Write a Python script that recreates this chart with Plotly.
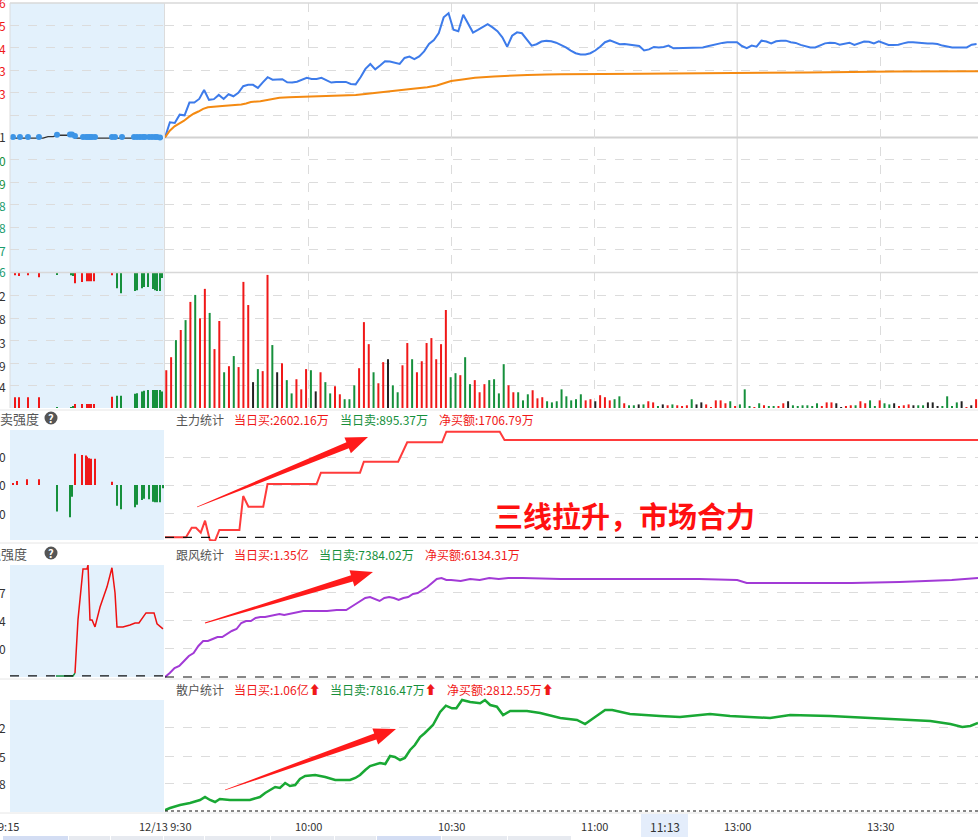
import numpy as np
import plotly.graph_objects as go

W, H = 978, 840
T_END = 170.5      # minutes after 9:30 visible at right edge
PRE_END = 15.0     # 9:15 -> 9:30

# ---------------- data ----------------
# price panel (grid units vs previous close)
blue = [0.0, 0.68, 0.65, 1.02, 0.99, 1.56, 1.56, 1.72, 2.12, 1.68,
        1.71, 1.90, 1.72, 1.93, 1.84, 1.99, 2.29, 2.35, 2.35, 2.21,
        2.46, 2.69, 2.58, 2.58, 2.60, 2.46, 2.45, 2.49, 2.57, 2.66,
        2.61, 2.61, 2.66, 2.54, 2.45, 2.48, 2.49, 2.48, 2.39, 2.37,
        2.69, 3.06, 3.28, 3.04, 3.21, 3.40, 3.39, 3.33, 3.28, 3.55,
        3.61, 3.50, 3.62, 3.84, 4.17, 4.35, 4.66, 5.36, 5.54, 4.81,
        4.74, 5.48, 5.06, 4.68, 4.80, 4.94, 5.06, 4.91, 4.74, 4.47,
        4.05, 4.54, 4.69, 4.65, 4.40, 4.10, 4.16, 4.28, 4.31, 4.29, 4.23,
        4.13, 4.02, 3.88, 3.76, 3.70, 3.70, 3.76, 3.88, 4.05, 4.25,
        4.33, 4.25, 4.16, 4.17, 4.14, 4.10, 4.08, 3.88, 3.93, 4.04,
        4.02, 4.04, 4.10, 3.98, 3.99, 4.01, 4.02, 4.01, 4.01, 4.02,
        4.07, 4.13, 4.16, 4.22, 4.25, 4.25, 4.25, 4.08, 3.99, 4.10,
        4.05, 4.32, 4.28, 4.20, 4.29, 4.32, 4.32, 4.25, 4.22, 4.13,
        4.07, 4.02, 4.02, 4.10, 4.20, 4.23, 4.22, 4.14, 4.20, 4.23,
        4.13, 4.22, 4.28, 4.27, 4.20, 4.29, 4.20, 4.13, 4.13, 4.14,
        4.20, 4.25, 4.25, 4.22, 4.19, 4.19, 4.19, 4.17, 4.10, 4.05,
        4.02, 4.02, 4.02, 4.02, 4.14, 4.17]
orange_t = [0, 1, 2, 3, 4, 5, 6, 7, 8, 9, 10, 12, 14, 16, 17, 18, 20, 21, 22, 24, 26, 30,
            34, 40, 42, 48, 52, 55, 57, 59, 60, 62, 65, 69, 72, 76, 80, 83, 100, 118, 135, 153, 170.5]
orange = [0, 0.30, 0.50, 0.62, 0.75, 0.92, 1.06, 1.16, 1.28, 1.35, 1.38, 1.41, 1.44, 1.47, 1.52,
          1.58, 1.62, 1.66, 1.72, 1.77, 1.80, 1.82, 1.87, 1.90, 1.94, 2.06, 2.17, 2.24, 2.32, 2.45,
          2.52, 2.58, 2.66, 2.72, 2.76, 2.79, 2.81, 2.82, 2.84, 2.86, 2.90, 2.94, 2.95]
pre_dot_t = [0.29, 0.97, 1.75, 2.82, 4.58, 5.84, 6.04, 6.33, 7.11, 7.40, 7.60, 7.79, 7.99, 8.28,
             9.93, 10.23, 10.91, 12.08, 12.37, 12.66, 12.95, 13.15, 13.54, 13.83, 14.12, 14.32, 14.61]
pre_dot = [0.02, 0.02, 0.02, 0.02, 0.12, 0.13, 0.13, 0.07, 0.02, 0.02, 0.02, 0.02, 0.02, 0.02,
           0.02, 0.02, 0.02, 0.02, 0.02, 0.02, 0.02, 0.02, 0.02, 0.02, 0.02, 0.02, 0.0]
pre_line_t = [0, 3.21, 3.70, 4.19, 4.68, 6.04, 6.33, 14.9]
pre_line = [-0.03, -0.03, 0.04, 0.04, 0.10, 0.10, -0.03, -0.03]

# volume panel (grid units)
vol = [1.68, 2.26, 3.02, 3.47, 3.91, 4.72, 5.03, 3.99, 5.30, 4.23,
       2.62, 3.87, 1.59, 1.86, 2.31, 1.82, 5.61, 4.58, 1.15, 1.73,
       1.64, 5.92, 2.80, 1.59, 1.99, 1.24, 0.65, 1.28, 0.83, 1.73,
       1.68, 0.74, 1.59, 1.15, 0.65, 0.97, 0.61, 0.39, 0.39, 1.01,
       1.77, 3.82, 2.84, 1.59, 1.10, 2.04, 2.17, 1.01, 0.70, 1.90,
       2.89, 2.17, 1.59, 2.08, 2.89, 3.11, 2.17, 2.84, 4.36, 1.37,
       1.55, 1.46, 2.26, 1.06, 1.24, 0.70, 1.06, 1.24, 1.28, 0.65,
       1.95, 1.01, 0.70, 0.70, 0.34, 0.61, 0.79, 0.43, 0.48, 0.30, 0.25, 0.30,
       0.83, 0.52, 0.34, 0.39, 0.61, 0.34, 0.39, 0.30, 0.57, 0.48,
       0.34, 0.39, 0.52, 0.21, 0.12, 0.12, 0.16, 0.16, 0.30, 0.25,
       0.07, 0.16, 0.12, 0.16, 0.12, 0.07, 0.12, 0.39, 0.16, 0.25,
       0.16, 0.03, 0.34, 0.34, 0.21, 0.30, 0.07, 0.16, 0.83, 0.07,
       0.03, 0.21, 0.12, 0.07, 0.07, 0.07, 0.21, 0.30, 0.12, 0.07,
       0.12, 0.12, 0.07, 0.21, 0.07, 0.25, 0.25, 0.21, 0.03, 0.07,
       0.12, 0.12, 0.30, 0.21, 0.34, 0.07, 0.34, 0.21, 0.16, 0.21,
       0.07, 0.12, 0.16, 0.12, 0.12, 0.12, 0.25, 0.25, 0.07, 0.07,
       0.52, 0.07, 0.25, 0.30, 0.03, 0.12, 0.39]
vol_side = ("rrgrgrgrrg" "rrgrgrrrkg" "rrgkrggrrr" "gkrggrrggg" "rrrgrrkggr"
            "rgrrrrrrrg" "grggrrrggg" "grrgggrrrggg"
            "gggggrrkrr" "rggrggkgrr" "gkrgrrrgkk" "rrrrrgrggg" "rgrggrrkgg"
            "ggggrrrkkr" "rgrrggrggk" "rrrkggkkkg" "gggkrkr")
pre_vol_t = [0.49, 0.88, 1.75, 2.82, 4.58, 5.94, 6.14, 6.33, 7.01, 7.50, 7.69, 7.89, 8.18,
             9.93, 10.42, 10.81, 12.18, 12.37, 12.86, 13.05, 13.44, 13.93, 14.12, 14.32, 14.61, 14.80]
pre_vol_top = [0.09, 0.13, 0.09, 0.18, 0.04, 0.09, 0.13, 0.45, 0.40, 0.36, 0.36, 0.36, 0.36,
               0.09, 0.67, 0.89, 0.80, 0.76, 0.67, 0.62, 0.62, 0.71, 0.76, 0.80, 0.80, 0.22]
pre_vol_bot = [0.48, 0.48, 0.48, 0.48, 0.04, 0.04, 0.09, 0.18, 0.18, 0.18, 0.18, 0.18, 0.18,
               0.50, 0.54, 0.54, 0.63, 0.66, 0.73, 0.77, 0.80, 0.80, 0.80, 0.80, 0.80, 0.73]
pre_vol_side = "rrrrgggrrrrrrrggggggggggg" + "g"

# 主力统计 (net buy, 万)
zl_t = [0, 4.4, 5.6, 6.5, 7.5, 8.4, 9.4, 10.5, 11.4, 15.6, 16.4, 17.5, 20.6, 21.5, 31.8, 32.7,
        40.9, 41.7, 48.9, 50.8, 58.1, 59.0, 70.2, 71.2, 170.5]
zl = [0, 0, 168, 168, 81, 291, -47, -60, 128, 128, 724, 537, 537, 935, 935, 1133, 1133, 1326,
      1326, 1666, 1666, 1852, 1852, 1707, 1707]
pre_s_t = [0.29, 0.68, 1.66, 2.82, 4.58, 5.84, 6.04, 6.33, 7.01, 7.40, 7.50, 7.69, 7.89, 8.28,
           9.93, 10.42, 10.81, 12.18, 12.37, 12.86, 13.05, 13.54, 13.93, 14.12, 14.32, 14.61, 14.90]
pre_s = [0.06, 0.14, 0.20, 0.20, -0.95, -1.15, -0.42, 1.11, 1.07, 1.05, 1.01, 0.95, 0.93, 0.93,
         0.11, -0.74, -0.87, -0.80, -0.71, -0.54, -0.49, -0.51, -0.60, -0.62, -0.62, -0.62, -0.12]

# 跟风统计 (万)
gf_t = [0, 1, 2, 3, 4, 5, 6, 7, 8, 9, 10, 11, 12, 13, 14, 15, 16, 17, 18, 19, 20, 21, 22, 23, 24,
        25, 26, 27, 28, 29, 30, 32, 34, 36, 38, 40, 41, 42, 43, 44, 45, 46, 47, 48, 49, 50, 51, 52,
        53, 54, 55, 56, 57, 58, 59, 60, 62, 64, 66, 68, 70, 72, 75, 83, 91, 102, 112, 120, 122,
        133, 144, 154, 165, 170.5]
gf = [0, 248, 558, 682, 992, 1302, 1488, 1922, 2232, 2232, 2356, 2480, 2480, 2666, 2852, 2976,
      3348, 3472, 3472, 3658, 3720, 3720, 3782, 3844, 3906, 3844, 3906, 3968, 4030, 4092, 4092,
      4092, 4092, 4154, 4154, 4526, 4712, 4898, 4960, 4836, 4712, 4898, 4960, 4898, 4774, 4898,
      4960, 5146, 5208, 5394, 5580, 5828, 6076, 6138, 6014, 6014, 5952, 6076, 6014, 6138, 6076,
      6138, 6138, 6076, 6076, 6076, 6076, 6014, 5828, 5828, 5828, 5890, 6014, 6138]
pre_q_t = [4.48, 6.14, 6.33, 6.62, 7.11, 7.50, 7.60, 7.69, 7.79, 7.99, 8.28, 8.77, 9.45, 9.93,
           10.23, 10.42, 11.00, 11.69, 12.18, 12.56, 12.95, 13.25, 14.03, 14.32, 14.90]
pre_q = [0, 0, 0.10, 2.00, 3.82, 3.82, 3.96, 2.46, 2.00, 2.00, 1.75, 2.46, 3.18, 3.86, 2.96,
         1.75, 1.75, 1.82, 1.89, 1.89, 2.07, 2.25, 2.25, 1.86, 1.68]

# 散户统计 (万)
sh_t = [0, 1.05, 3.15, 5.24, 7.34, 8.39, 9.44, 10.5, 11.5, 13.6, 17.8, 19.9, 21, 22, 23.1, 24.1,
        25.2, 26.2, 27.3, 28.3, 29.4, 31.5, 33.6, 35.7, 38.8, 39.9, 40.9, 42, 43, 45.1, 46.2, 47.2,
        48.2, 49.3, 50.3, 51.4, 52.4, 53.5, 54.5, 56.2, 57.7, 58.9, 60.2, 61.1, 62.3, 64, 66.1,
        67.1, 68.2, 69.6, 70.9, 72.4, 75.9, 78.7, 82.9, 86.4, 88.1, 90.2, 92.3, 93.8, 97.5, 103.8,
        108, 114.3, 118.5, 126.9, 131.1, 139.5, 147.9, 154.2, 160.5, 164.7, 167.2, 168.9, 170.5]
sh = [32, 96, 192, 256, 352, 448, 352, 288, 384, 352, 352, 448, 576, 672, 768, 736, 896, 800,
      832, 1024, 1120, 1152, 1088, 992, 992, 1056, 1152, 1312, 1440, 1536, 1504, 1760, 1728, 1632,
      1696, 1952, 2112, 2368, 2496, 2752, 3168, 3370, 3286, 3286, 3552, 3488, 3446, 3552, 3392,
      3338, 3072, 3200, 3200, 3136, 2976, 2912, 2784, 3008, 3232, 3232, 3104, 3040, 3008, 3104,
      3040, 2976, 3072, 3040, 2976, 2912, 2880, 2784, 2688, 2720, 2816]

time_ticks = [0, 30, 60, 90, 120, 150]
time_labels = ["12/13 9:30", "10:00", "10:30", "11:00", "13:00", "13:30"]

# ---------------- helpers (layout only) ----------------
def P(x):
    return x / W

def Q(y):
    return 1 - y / H

def ydom(top, bot):
    return [Q(bot), Q(top)]

RED = "#f01818"
GREEN = "#16903c"
TEAL = "#1a9c6e"
SIDE = {"r": RED, "g": GREEN, "k": "#222222"}
FONT = "Noto Sans CJK SC, Noto Sans, sans-serif"
GRID = "#dcdcdc"

fig = go.Figure()
bar_t = np.linspace(0.27, 170.1, len(vol))
blue_t = np.linspace(0, T_END - 0.3, len(blue))

# panel 1
fig.add_trace(go.Scatter(x=blue_t, y=blue, mode="lines", line=dict(color="#3d7bea", width=2),
                         xaxis="x", yaxis="y"))
fig.add_trace(go.Scatter(x=orange_t, y=orange, mode="lines", line=dict(color="#f48a12", width=2),
                         xaxis="x", yaxis="y"))
fig.add_trace(go.Scatter(x=pre_line_t, y=pre_line, mode="lines", line=dict(color="#333", width=1.3),
                         xaxis="x2", yaxis="y2"))
fig.add_trace(go.Scatter(x=pre_dot_t, y=pre_dot, mode="markers",
                         marker=dict(color="#3d95e6", size=6), xaxis="x2", yaxis="y2"))
# panel 2
fig.add_trace(go.Bar(x=bar_t, y=vol, width=0.42, marker=dict(color=[SIDE[c] for c in vol_side[:len(vol)]],
                     line=dict(width=0)), xaxis="x3", yaxis="y3"))
fig.add_trace(go.Bar(x=pre_vol_t, y=[-d for d in pre_vol_top], base=6, width=0.17,
                     marker=dict(color=[SIDE[c] for c in pre_vol_side], line=dict(width=0)),
                     xaxis="x4", yaxis="y4"))
fig.add_trace(go.Bar(x=pre_vol_t, y=pre_vol_bot, width=0.17,
                     marker=dict(color=[SIDE[c] for c in pre_vol_side], line=dict(width=0)),
                     xaxis="x4", yaxis="y4"))
# panel 3
fig.add_trace(go.Scatter(x=zl_t, y=zl, mode="lines", line=dict(color="#ff3b3b", width=2),
                         xaxis="x5", yaxis="y5"))
fig.add_trace(go.Bar(x=pre_s_t, y=pre_s, width=0.17,
                     marker=dict(color=[RED if v > 0 else GREEN for v in pre_s], line=dict(width=0)),
                     xaxis="x6", yaxis="y6"))
# panel 4
fig.add_trace(go.Scatter(x=gf_t, y=gf, mode="lines", line=dict(color="#a23ad6", width=2),
                         xaxis="x7", yaxis="y7"))
fig.add_trace(go.Scatter(x=pre_q_t[:3], y=pre_q[:3], mode="lines", line=dict(color=GREEN, width=1.5),
                         xaxis="x8", yaxis="y8"))
fig.add_trace(go.Scatter(x=pre_q_t[2:], y=pre_q[2:], mode="lines", line=dict(color="#ee1111", width=1.5),
                         xaxis="x8", yaxis="y8"))
# panel 5
fig.add_trace(go.Scatter(x=sh_t, y=sh, mode="lines", line=dict(color="#19a834", width=2.5),
                         xaxis="x9", yaxis="y9"))

panels = [  # (top, bottom, main range, pre range, main grid vals, pre grid vals, vgrid)
    (3, 272, [-6, 6], [-6, 6], [-5, -4, -3, -2, -1, 1, 2, 3, 4, 5], [-5, -4, -3, -2, -1, 1, 2, 3, 4, 5], True),
    (272, 408, [0, 6.05], [0, 6.05], [1, 2, 3, 4, 5], [1, 2, 3, 4, 5], True),
    (430, 541, [-65, 1882], [-2.0, 1.96], [426, 917, 1408], [], False),
    (565, 679, [-124, 6944], [-0.11, 3.96], [1798, 3534, 5270], [], False),
    (698, 813, [-64, 3616], [-64, 3616], [896, 1760, 2688], [], False),
]
layout = {}
for i, (top, bot, mr, pr, mg, pg, vg) in enumerate(panels):
    mi, pi = 2 * i + 1, 2 * i + 2
    mx = "xaxis" if mi == 1 else f"xaxis{mi}"
    my = "yaxis" if mi == 1 else f"yaxis{mi}"
    mxr = "x" if mi == 1 else f"x{mi}"
    myr = "y" if mi == 1 else f"y{mi}"
    layout[mx] = dict(domain=[P(165), 1], range=[0, T_END], anchor=myr, showticklabels=False,
                      ticks="", zeroline=False, showgrid=vg, tickvals=[30, 60, 90, 150],
                      gridcolor=GRID, griddash="dash", gridwidth=1)
    layout[my] = dict(domain=ydom(top, bot), range=mr, anchor=mxr, showticklabels=False, ticks="",
                      zeroline=False, showgrid=True, tickvals=mg, gridcolor=GRID, griddash="dash")
    layout[f"xaxis{pi}"] = dict(domain=[P(10), P(164)], range=[0, PRE_END], anchor=f"y{pi}",
                                showticklabels=False, ticks="", zeroline=False, showgrid=False)
    layout[f"yaxis{pi}"] = dict(domain=ydom(top, bot), range=pr, anchor=f"x{pi}", showticklabels=False,
                                ticks="", zeroline=False, showgrid=bool(pg), tickvals=pg,
                                gridcolor=GRID, griddash="dash")

shapes = []
# pre-market background
for (t, b) in [(3, 408), (430, 540), (565, 677), (700, 812)]:
    shapes.append(dict(type="rect", xref="paper", yref="paper", x0=P(10), x1=P(164), y0=Q(b), y1=Q(t),
                       fillcolor="#e3f1fc", line=dict(width=0), layer="below"))
# separators / borders
for y in [410, 543, 679, 813]:
    shapes.append(dict(type="line", xref="paper", yref="paper", x0=0, x1=1, y0=Q(y), y1=Q(y),
                       line=dict(color="#e6e6e6", width=1)))
shapes.append(dict(type="line", xref="paper", yref="paper", x0=P(10), x1=1, y0=Q(3), y1=Q(3),
                   line=dict(color="#d8d8d8", width=1.5)))
shapes.append(dict(type="line", xref="paper", yref="paper", x0=P(10), x1=1, y0=Q(272.5), y1=Q(272.5),
                   line=dict(color="#d8d8d8", width=1.5)))
for x in [10, 164.5]:
    shapes.append(dict(type="line", xref="paper", yref="paper", x0=P(x), x1=P(x), y0=Q(408), y1=Q(3),
                       line=dict(color="#dcdcdc", width=1)))
# previous close line
shapes.append(dict(type="line", xref="x", yref="y", x0=0, x1=T_END, y0=0, y1=0,
                   line=dict(color="#d2d2d2", width=2), layer="below"))
# midday solid gridline
for ax in [("x", "y"), ("x3", "y3")]:
    shapes.append(dict(type="line", xref=ax[0], yref=ax[1] + " domain", x0=120, x1=120, y0=0, y1=1,
                       line=dict(color="#d8d8d8", width=1.2), layer="below"))
# zero baselines
shapes.append(dict(type="line", xref="x5", yref="y5", x0=0, x1=T_END, y0=0, y1=0,
                   line=dict(color="#111", width=1.2, dash="dash")))
shapes.append(dict(type="line", xref="x7", yref="y7", x0=0, x1=T_END, y0=0, y1=0,
                   line=dict(color="#111", width=1.2, dash="dash")))
shapes.append(dict(type="line", xref="x8", yref="y8", x0=0, x1=PRE_END, y0=0, y1=0,
                   line=dict(color="#111", width=1.2, dash="dash")))
shapes.append(dict(type="line", xref="x9", yref="y9", x0=0, x1=T_END, y0=0, y1=0,
                   line=dict(color="#111", width=1.2, dash="dot")))

# tapered red arrows
def arrow_path(tx, ty, hx, hy):
    d = np.array([hx - tx, hy - ty], float)
    d /= np.linalg.norm(d)
    n = np.array([-d[1], d[0]])
    T = np.array([tx, ty], float)
    Hh = np.array([hx, hy], float)
    B = Hh - d * 22
    pts = [T + n * 0.4, B + n * 3.2, B + n * 8.5, Hh, B - n * 8.5, B - n * 3.2, T - n * 0.4]
    return "M " + " L ".join(f"{P(p[0]):.5f},{Q(p[1]):.5f}" for p in pts) + " Z"

for (tx, ty, hx, hy) in [(197, 507, 368, 437), (205, 623, 373, 572), (225, 790, 396, 729)]:
    shapes.append(dict(type="path", xref="paper", yref="paper", path=arrow_path(tx, ty, hx, hy),
                       fillcolor="#ff1a1a", line=dict(width=0)))

# help icons
for yc in [418, 553]:
    shapes.append(dict(type="circle", xref="paper", yref="paper", x0=P(44.5), x1=P(57.5),
                       y0=Q(yc + 6.5), y1=Q(yc - 6.5), fillcolor="#555", line=dict(width=0)))
# 11:13 box
shapes.append(dict(type="rect", xref="paper", yref="paper", x0=P(641), x1=P(688), y0=Q(837), y1=Q(814),
                   fillcolor="#e4edfb", line=dict(width=0)))
# bottom tabs
for (a, b, c) in [(3, 68, "#d3ddf3"), (69, 110, "#e7eaf0"), (111, 163, "#e7eaf0"), (164, 204, "#e7eaf0"),
                  (205, 270, "#e7eaf0"), (271, 334, "#e7eaf0"), (335, 376, "#e7eaf0"),
                  (377, 441, "#d3ddf3"), (442, 507, "#e7eaf0"), (508, 571, "#e7eaf0")]:
    shapes.append(dict(type="rect", xref="paper", yref="paper", x0=P(a), x1=P(b), y0=0, y1=Q(836),
                       fillcolor=c, line=dict(width=0)))

ann = []
def txt(x, y, s, color="#333", size=12, anchor="left", bold=False, **kw):
    ann.append(dict(xref="paper", yref="paper", x=P(x), y=Q(y), text=(f"<b>{s}</b>" if bold else s),
                    showarrow=False, xanchor=anchor, yanchor="middle",
                    font=dict(color=color, size=size, family=FONT), **kw))

# truncated left axis labels
for (y, s, c) in [(3, "6", RED), (25, "5", RED), (48, "4", RED), (70, "3", RED), (93, "3", RED),
                  (137, "1", "#333"), (160, "0", GREEN), (183, "9", GREEN), (205, "8", TEAL),
                  (228, "8", TEAL), (250, "7", TEAL), (272, "6", TEAL),
                  (295, "2", "#333"), (318, "8", "#333"), (342, "3", "#333"), (365, "9", "#333"),
                  (387, "4", "#333"), (457, "0", "#333"), (485, "0", "#333"), (513, "0", "#333"),
                  (592, "7", "#333"), (620, "4", "#333"), (648, "0", "#333"),
                  (727, "2", "#333"), (756, "5", "#333"), (783, "8", "#333")]:
    txt(7.5, y, s, c, 12, "right")

# left panel titles
txt(41, 418, "买卖强度", "#555", 13, "right")
txt(29, 553, "强强度", "#555", 13, "right")
for yc in [418, 553]:
    txt(51, yc, "?", "white", 11, "center", bold=True)

# statistic headers
txt(174, 419, "主力统计", "#555", 12)
txt(232, 419, "当日买:2602.16万", RED, 12)
txt(338, 419, "当日卖:895.37万", GREEN, 12)
txt(437, 419, "净买额:1706.79万", RED, 12)
txt(174, 554, "跟风统计", "#555", 12)
txt(232, 554, "当日买:1.35亿", RED, 12)
txt(317, 554, "当日卖:7384.02万", GREEN, 12)
txt(423, 554, "净买额:6134.31万", RED, 12)
txt(174, 689, "散户统计", "#555", 12)
txt(232, 689, f"当日买:1.06亿<span style='color:{RED}'><b>⬆</b></span>", RED, 12)
txt(328, 689, f"当日卖:7816.47万<span style='color:{RED}'><b>⬆</b></span>", GREEN, 12)
txt(445, 689, f"净买额:2812.55万<span style='color:{RED}'><b>⬆</b></span>", RED, 12)

# big annotation
txt(624, 515, "三线拉升，市场合力", "#ff1010", 29, "center", bold=True)

# time axis labels
for t, lab in zip(time_ticks, time_labels):
    ann.append(dict(xref="x9", yref="paper", x=t, y=Q(826), text=lab, showarrow=False,
                    xanchor="center", yanchor="middle", font=dict(color="#333", size=11, family=FONT)))
txt(8, 826, "9:15", "#333", 11, "center")
txt(664.5, 826, "11:13", "#333", 12, "center")

fig.update_layout(width=W, height=H, margin=dict(l=0, r=0, t=0, b=0), paper_bgcolor="white",
                  plot_bgcolor="rgba(0,0,0,0)", showlegend=False, barmode="overlay",
                  font=dict(family=FONT), shapes=shapes, annotations=ann, **layout)
fig.write_html("out.html", config={"displayModeBar": False},
               post_script="document.body.style.margin='0';document.body.style.overflow='hidden';")
